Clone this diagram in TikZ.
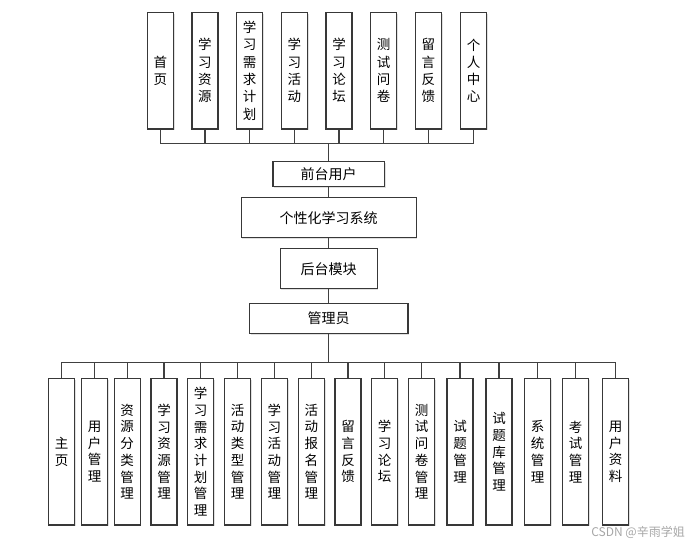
\documentclass[tikz,border=0pt]{standalone}
\usepackage{fontspec}
\newfontfamily\cjk{Noto Sans CJK SC}
\usetikzlibrary{shadows}
\begin{document}
\begin{tikzpicture}[x=1pt,y=-1pt,
  box/.style={draw=black!78, line width=1.4pt, fill=white, inner sep=0pt, align=center,
    font=\cjk\fontsize{13.5}{17.3}\selectfont,
    general shadow={shadow xshift=1.2pt, shadow yshift=-1.2pt, fill=black!12}},
  topbox/.style={box, minimum width=26pt, minimum height=116.7pt},
  botbox/.style={box, minimum width=26pt, minimum height=146.7pt, font=\cjk\fontsize{13.5}{16.7}\selectfont},
  midbox/.style={box, font=\cjk\fontsize{14}{16}\selectfont},
  conn/.style={draw=black!75, line width=1.4pt}]
\useasboundingbox (0,0) rectangle (692,546);
% top row
\node[topbox] (t1) at (160.3,70.7) {首\\页};
\node[topbox] (t2) at (204.9,70.7) {学\\习\\资\\源};
\node[topbox] (t3) at (249.7,70.7) {学\\习\\需\\求\\计\\划};
\node[topbox] (t4) at (294.3,70.7) {学\\习\\活\\动};
\node[topbox] (t5) at (339.0,70.7) {学\\习\\论\\坛};
\node[topbox] (t6) at (383.7,70.7) {测\\试\\问\\卷};
\node[topbox] (t7) at (428.3,70.7) {留\\言\\反\\馈};
\node[topbox] (t8) at (473.5,70.7) {个\\人\\中\\心};
% middle
\node[midbox, minimum width=111.6pt, minimum height=25pt] (fu) at (328.7,174.2) {前台用户};
\node[midbox, minimum width=175pt, minimum height=40pt] (sys) at (328.7,217.7) {个性化学习系统};
\node[midbox, minimum width=97pt, minimum height=40pt] (bm) at (328.7,268.7) {后台模块};
\node[midbox, minimum width=158.4pt, minimum height=30.4pt] (adm) at (328.7,318.5) {管理员};
% bottom row
\node[botbox] (b1) at (61.5,451.7) {主\\页};
\node[botbox] (b2) at (94.5,451.7) {用\\户\\管\\理};
\node[botbox] (b3) at (127.2,451.7) {资\\源\\分\\类\\管\\理};
\node[botbox] (b4) at (164.0,451.7) {学\\习\\资\\源\\管\\理};
\node[botbox] (b5) at (200.7,451.7) {学\\习\\需\\求\\计\\划\\管\\理};
\node[botbox] (b6) at (237.5,451.7) {活\\动\\类\\型\\管\\理};
\node[botbox] (b7) at (274.3,451.7) {学\\习\\活\\动\\管\\理};
\node[botbox] (b8) at (311.3,451.7) {活\\动\\报\\名\\管\\理};
\node[botbox] (b9) at (348.0,451.7) {留\\言\\反\\馈};
\node[botbox] (b10) at (384.7,451.7) {学\\习\\论\\坛};
\node[botbox] (b11) at (421.5,451.7) {测\\试\\问\\卷\\管\\理};
\node[botbox] (b12) at (460.0,451.7) {试\\题\\管\\理};
\node[botbox] (b13) at (499.0,451.7) {试\\题\\库\\管\\理};
\node[botbox] (b14) at (537.5,451.7) {系\\统\\管\\理};
\node[botbox] (b15) at (575.5,451.7) {考\\试\\管\\理};
\node[botbox] (b16) at (615.7,451.7) {用\\户\\资\\料};
% connectors
\coordinate (busT) at (328.7,143.3);
\coordinate (busB) at (328.7,362.7);
\foreach \i in {1,...,8} {\draw[conn] (t\i.south) |- (busT);}
\draw[conn] (busT) -- (fu.north);
\draw[conn] (fu.south) -- (sys.north);
\draw[conn] (sys.south) -- (bm.north);
\draw[conn] (bm.south) -- (adm.north);
\draw[conn] (adm.south) -- (busB);
\foreach \i in {1,...,16} {\draw[conn] (busB) -| (b\i.north);}
% watermark
\node[text=black!35, font=\cjk\fontsize{12}{14}\selectfont, anchor=east, inner sep=0pt] (wm) at (685,532.5) {CSDN @辛雨学姐};
\end{tikzpicture}
\end{document}
